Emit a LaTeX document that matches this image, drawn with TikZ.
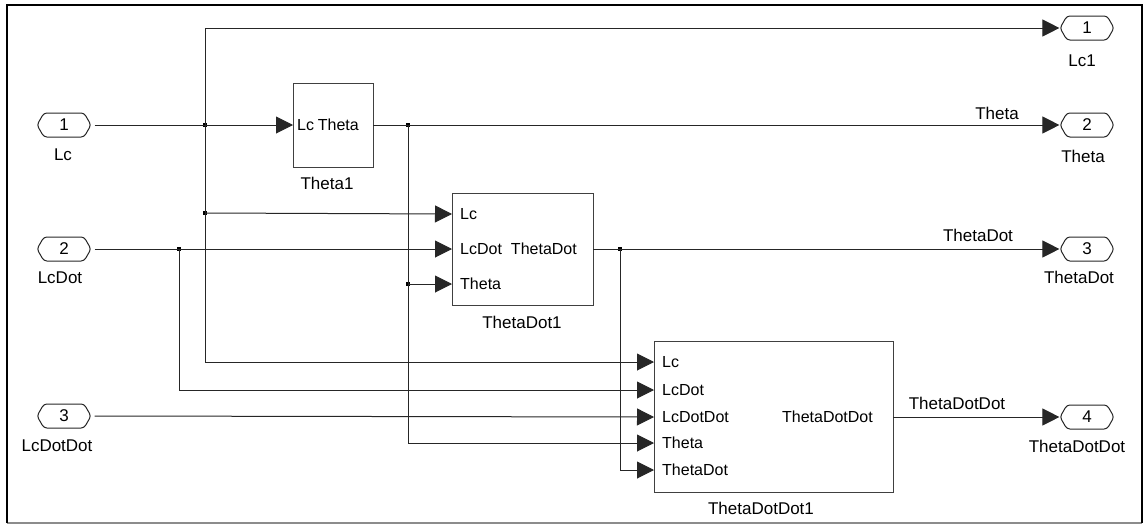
\documentclass[tikz,border=0pt]{standalone}
\usepackage{fontspec}
\setmainfont{Liberation Sans}
\usetikzlibrary{arrows.meta,shapes.symbols}
\newcommand\lblfont{\fontsize{17}{20}\selectfont}
\newcommand\pinfont{\fontsize{16}{19}\selectfont}
\tikzset{
  wire/.style={draw=black!85, line width=1pt},
  sig/.style={wire, -{Triangle[length=17pt,width=17pt]}},
  iop/.style={draw=black!85, line width=1pt, signal, signal to=west and east,
    signal pointer angle=120, rounded corners=3pt, minimum width=54pt,
    minimum height=24pt, inner sep=0pt, font=\lblfont},
  blk/.style={draw=black!75, line width=1pt},
  jdot/.style={rectangle, fill=black, minimum size=4.5pt, inner sep=0pt},
  lbl/.style={inner sep=0pt, font=\lblfont},
  pin/.style={inner sep=0pt, font=\pinfont},
}
\begin{document}
\begin{tikzpicture}[x=1pt,y=-1pt]
\useasboundingbox (0,0) rectangle (1144,525);
% frame
\draw[black!45, line width=1.5pt] (7,523) -- (1142,523);
\draw[black, line width=2.2pt] (7,523) -- (7,5) -- (1142,5) -- (1142,523);

% inports
\node[iop] (in1) at (64,125) {1};
\node[iop] (in2) at (64,249) {2};
\node[iop] (in3) at (64,416) {3};
\node[lbl] (in1l) at (63,155) {Lc};
\node[lbl] (in2l) at (60,278) {LcDot};
\node[lbl] (in3l) at (57,446) {LcDotDot};

% outports
\node[iop] (out1) at (1087,28) {1};
\node[iop] (out2) at (1087,125) {2};
\node[iop] (out3) at (1087,249) {3};
\node[iop] (out4) at (1087,417) {4};
\node[lbl] (out1l) at (1082,61) {Lc1};
\node[lbl] (out2l) at (1083,156) {Theta};
\node[lbl] (out3l) at (1079,277) {ThetaDot};
\node[lbl] (out4l) at (1077,446) {ThetaDotDot};

% block Theta1
\draw[blk] (293,83) rectangle (373,167);
\coordinate (b1in) at (293,125);
\coordinate (b1out) at (373,125);
\node[pin,anchor=west] (b1p1) at (297,125) {Lc};
\node[pin,anchor=east] (b1q1) at (359,125) {Theta};
\node[lbl] (b1name) at (327,183) {Theta1};

% block ThetaDot1
\draw[blk] (452,193) rectangle (593,305);
\coordinate (b2in1) at (452,214);
\coordinate (b2in2) at (452,249);
\coordinate (b2in3) at (452,284);
\coordinate (b2out) at (593,249);
\node[pin,anchor=west] (b2p1) at (460,214) {Lc};
\node[pin,anchor=west] (b2p2) at (460,249) {LcDot};
\node[pin,anchor=west] (b2p3) at (460,284) {Theta};
\node[pin,anchor=east] (b2q1) at (577,249) {ThetaDot};
\node[lbl] (b2name) at (522,322) {ThetaDot1};

% block ThetaDotDot1
\draw[blk] (654,341) rectangle (893,492);
\coordinate (b3in1) at (654,362);
\coordinate (b3in2) at (654,390);
\coordinate (b3in3) at (654,417);
\coordinate (b3in4) at (654,443);
\coordinate (b3in5) at (654,470);
\coordinate (b3out) at (893,417);
\node[pin,anchor=west] (b3p1) at (662,362) {Lc};
\node[pin,anchor=west] (b3p2) at (662,390) {LcDot};
\node[pin,anchor=west] (b3p3) at (662,417) {LcDotDot};
\node[pin,anchor=west] (b3p4) at (662,443) {Theta};
\node[pin,anchor=west] (b3p5) at (662,470) {ThetaDot};
\node[pin,anchor=east] (b3q1) at (873,417) {ThetaDotDot};
\node[lbl] (b3name) at (761,508) {ThetaDotDot1};

% branch points
\node[jdot] (j1) at (205,125) {};
\node[jdot] (j2) at (205,213) {};
\node[jdot] (j3) at (179,249) {};
\node[jdot] (j4) at (408,125) {};
\node[jdot] (j5) at (408,284) {};
\node[jdot] (j6) at (620,249) {};

% Lc
\draw[wire] ([xshift=3pt]in1.east) -- (j1.center);
\draw[sig] (j1.center) -- (b1in);
\draw[sig] (j1.center) |- (out1.west);
\draw[sig] (j1.center) |- (b3in1);
\draw[sig] (j2.center) -- (b2in1);
% LcDot
\draw[wire] ([xshift=3pt]in2.east) -- (j3.center);
\draw[sig] (j3.center) -- (b2in2);
\draw[sig] (j3.center) |- (b3in2);
% LcDotDot
\draw[sig] ([xshift=3pt]in3.east) -- (b3in3);
% Theta
\draw[wire] (b1out) -- (j4.center);
\draw[sig] (j4.center) -- (out2.west);
\draw[sig] (j4.center) |- (b3in4);
\draw[sig] (j5.center) -- (b2in3);
% ThetaDot
\draw[wire] (b2out) -- (j6.center);
\draw[sig] (j6.center) -- (out3.west);
\draw[sig] (j6.center) |- (b3in5);
% ThetaDotDot
\draw[sig] (b3out) -- (out4.west);

% signal names
\node[lbl] (s1) at (997,113) {Theta};
\node[lbl] (s2) at (978,235) {ThetaDot};
\node[lbl] (s3) at (957,403) {ThetaDotDot};
\end{tikzpicture}
\end{document}
